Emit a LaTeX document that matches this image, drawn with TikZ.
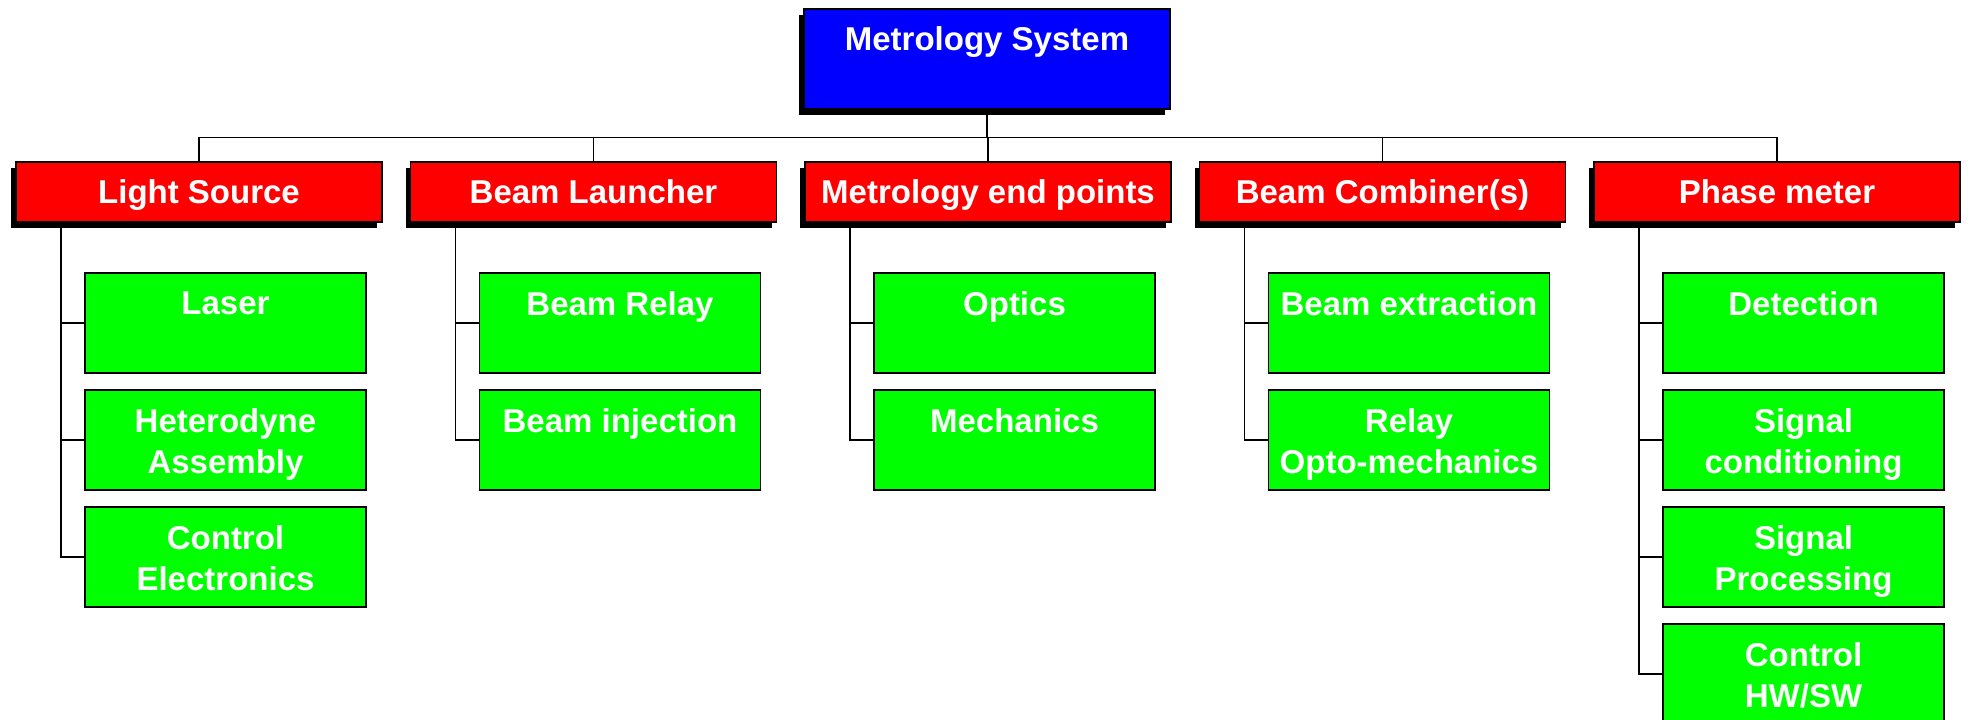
\documentclass[tikz,border=0pt]{standalone}
\usepackage{fontspec}
\setmainfont{Liberation Sans}
\usetikzlibrary{shadows}

\definecolor{sysblue}{RGB}{0,0,255}
\definecolor{subred}{RGB}{255,0,0}
\definecolor{partgreen}{RGB}{0,255,0}

\begin{document}
\begin{tikzpicture}[
    x=0.5pt, y=-0.5pt,
    txt/.style={text=white, font=\bfseries\fontsize{16.5}{20.5}\selectfont, align=center, inner sep=0pt},
    shadowed/.style={drop shadow={shadow xshift=-2.5pt, shadow yshift=-3pt, fill=black, opacity=1}},
    sysbox/.style={draw, line width=0.6pt, fill=sysblue, shadowed, minimum width=183pt, minimum height=50pt,
        label={[txt, anchor=north, label distance=-9pt]90:{#1}}},
    subbox/.style={draw, line width=0.6pt, fill=subred, shadowed, minimum width=183pt, minimum height=30pt,
        txt, text height=13pt, text depth=2pt},
    part/.style={draw, line width=0.6pt, fill=partgreen, minimum width=140.5pt, minimum height=50pt,
        label={[txt, anchor=north, label distance=-9.5pt]90:{#1}}},
    link/.style={line width=0.7pt}
]
\useasboundingbox (0,0) rectangle (1970,719);
\clip (0,0) rectangle (1970,719);

% top level
\node[sysbox={Metrology System}] (sys) at (987, 59) {};

% sub-systems
\node[subbox] (light)  at (199, 192)    {Light Source};
\node[subbox] (launch) at (593.5, 192)  {Beam Launcher};
\node[subbox] (endpt)  at (988, 192)    {Metrology end points};
\node[subbox] (comb)   at (1382.5, 192) {Beam Combiner(s)};
\node[subbox] (phase)  at (1777, 192)   {Phase meter};

% Light Source parts
\node[part={Laser}]                       (laser)  at (225.5, 323) {};
\node[part={Heterodyne\\Assembly}]        (hetero) at (225.5, 440) {};
\node[part={Control\\Electronics}]        (ctrlel) at (225.5, 557) {};

% Beam Launcher parts
\node[part={Beam Relay}]                  (relay)  at (620, 323) {};
\node[part={Beam injection}]              (inject) at (620, 440) {};

% Metrology end points parts
\node[part={Optics}]                      (optics) at (1014.5, 323) {};
\node[part={Mechanics}]                   (mech)   at (1014.5, 440) {};

% Beam Combiner(s) parts
\node[part={Beam extraction}]             (extract)  at (1409, 323) {};
\node[part={Relay\\Opto-mechanics}]       (optomech) at (1409, 440) {};

% Phase meter parts
\node[part={Detection}]                   (detect)  at (1803.5, 323) {};
\node[part={Signal\\conditioning}]        (sigcond) at (1803.5, 440) {};
\node[part={Signal\\Processing}]          (sigproc) at (1803.5, 557) {};
\node[part={Control\\HW/SW}]              (ctrlhw)  at (1803.5, 674) {};

% tree from the top box
\draw[link] (sys.south) -- ++(0,28) -| (light.north);
\draw[link] (sys.south) -- ++(0,28) -| (launch.north);
\draw[link] (sys.south) -- ++(0,28) -| (endpt.north);
\draw[link] (sys.south) -- ++(0,28) -| (comb.north);
\draw[link] (sys.south) -- ++(0,28) -| (phase.north);

% side spines to the parts
\draw[link] ([xshift=-69pt]light.south) |- (laser.west);
\draw[link] ([xshift=-69pt]light.south) |- (hetero.west);
\draw[link] ([xshift=-69pt]light.south) |- (ctrlel.west);
\draw[link] ([xshift=-69pt]launch.south) |- (relay.west);
\draw[link] ([xshift=-69pt]launch.south) |- (inject.west);
\draw[link] ([xshift=-69pt]endpt.south) |- (optics.west);
\draw[link] ([xshift=-69pt]endpt.south) |- (mech.west);
\draw[link] ([xshift=-69pt]comb.south) |- (extract.west);
\draw[link] ([xshift=-69pt]comb.south) |- (optomech.west);
\draw[link] ([xshift=-69pt]phase.south) |- (detect.west);
\draw[link] ([xshift=-69pt]phase.south) |- (sigcond.west);
\draw[link] ([xshift=-69pt]phase.south) |- (sigproc.west);
\draw[link] ([xshift=-69pt]phase.south) |- (ctrlhw.west);
\end{tikzpicture}
\end{document}
